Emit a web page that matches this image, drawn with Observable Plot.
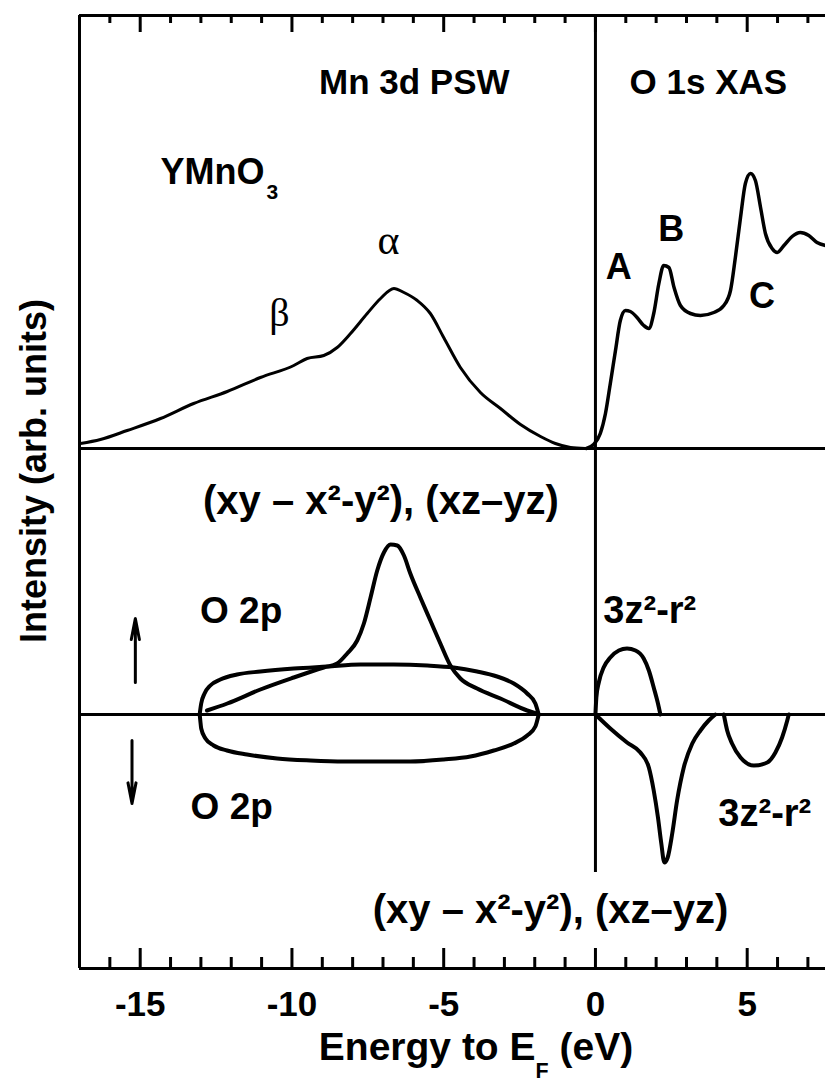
<!DOCTYPE html>
<html>
<head>
<meta charset="utf-8">
<script src="https://cdn.jsdelivr.net/npm/d3@7"></script>
<script src="https://cdn.jsdelivr.net/npm/@observablehq/plot@0.6"></script>
<style>
  html, body { margin: 0; padding: 0; background: #fff; }
  #wrap { position: relative; width: 825px; height: 1088px; overflow: hidden; }
  #xlabel {
    position: absolute; top: 1027px; left: 476px; transform: translateX(-50%);
    font: bold 39px "Liberation Sans", Arial, Helvetica, sans-serif;
    line-height: 39px; white-space: nowrap; color: #000;
  }
  #xlabel .sub { font-size: 0.55em; line-height: 1; position: relative; top: 0.85em; }
</style>
</head>
<body>
<div id="wrap">
  <div id="chart"></div>
  <div id="xlabel">Energy to E<span class="sub">F</span> (eV)</div>
</div>
<script>
// ---- Upper panel: Mn 3d partial spectral weight (occupied side) ----
const pswEnergy = [-16.97, -16.31, -15.43, -14.33, -13.24, -12.13, -11.04, -9.94, -9.50, -8.95,
  -8.51, -8.07, -7.52, -7.08, -6.64, -6.31, -5.87, -5.44, -5.00, -4.45,
  -3.79, -3.13, -2.47, -1.81, -1.32, -0.82, -0.33];
const pswIntensity = [0.5, 0.9, 1.8, 3.0, 4.5, 5.7, 7.1, 8.3, 9.0, 9.3,
  10.1, 11.5, 13.5, 15.0, 16.0, 15.6, 14.8, 13.5, 11.1, 8.1,
  5.6, 4.0, 2.4, 1.2, 0.5, 0.1, 0.0];

// ---- Upper panel: O 1s XAS (unoccupied side) ----
const xasEnergy = [-0.30, -0.06, 0.16, 0.33, 0.49, 0.66, 0.82, 0.99, 1.15, 1.37,
  1.59, 1.76, 1.92, 2.09, 2.25, 2.42, 2.59, 2.80, 3.13, 3.46,
  3.90, 4.23, 4.45, 4.61, 4.78, 4.94, 5.11, 5.27, 5.44, 5.60,
  5.82, 5.99, 6.21, 6.48, 6.75, 7.03, 7.30, 7.58];
const xasIntensity = [0.0, 0.4, 1.5, 3.5, 6.5, 9.8, 12.8, 13.8, 13.7, 13.1,
  12.3, 12.0, 13.5, 16.5, 18.3, 18.1, 16.1, 14.3, 13.5, 13.3,
  13.6, 14.3, 15.8, 19.1, 23.1, 26.5, 27.5, 26.8, 24.1, 21.5,
  20.0, 19.6, 20.3, 21.2, 21.6, 21.3, 20.6, 20.3];

// ---- Lower panel: O 2p, spin up (above zero) and spin down (below zero) ----
const o2pUpEnergy = [-13.04, -13.02, -12.99, -12.88, -12.69, -12.36, -11.81, -11.04, -9.94, -8.84,
  -7.74, -6.65, -5.54, -4.67, -3.90, -3.24, -2.69, -2.25, -1.98, -1.87];
const o2pUpIntensity = [0.0, 0.5, 1.1, 2.1, 2.9, 3.5, 4.0, 4.3, 4.6, 4.8,
  5.0, 5.0, 4.9, 4.7, 4.3, 3.8, 3.1, 2.1, 1.1, 0.0];
const o2pDownEnergy = [-13.04, -13.02, -12.99, -12.85, -12.58, -12.14, -11.48, -10.49, -9.39, -8.29,
  -7.19, -6.10, -5.00, -4.12, -3.35, -2.69, -2.25, -1.98, -1.87];
const o2pDownIntensity = [0.0, -0.6, -1.4, -2.4, -3.1, -3.6, -4.0, -4.4, -4.6, -4.7,
  -4.7, -4.7, -4.5, -4.2, -3.6, -2.9, -2.1, -1.2, 0.0];

// ---- Lower panel: Mn 3d (xy, x2-y2), (xz-yz), spin up, occupied ----
const mnUpEnergy = [-12.80, -12.13, -11.04, -9.94, -8.95, -8.51, -8.18, -7.85, -7.63, -7.41,
  -7.19, -6.97, -6.75, -6.53, -6.31, -6.10, -5.77, -5.44, -5.11, -4.78,
  -4.45, -3.90, -3.13, -2.25, -1.95];
const mnUpIntensity = [0.4, 1.1, 2.5, 3.7, 4.7, 5.1, 6.1, 7.4, 9.1, 11.7,
  14.4, 16.2, 17.0, 16.9, 15.9, 14.1, 11.7, 9.4, 7.1, 4.9,
  3.6, 2.6, 1.6, 0.4, 0.1];

// ---- Lower panel, unoccupied: 3z2-r2 spin up ----
const z2UpEnergy = [0.00, 0.03, 0.11, 0.27, 0.49, 0.77, 1.04, 1.32, 1.59, 1.76, 1.92, 2.06, 2.14];
const z2UpIntensity = [0.0, 1.7, 3.2, 4.7, 5.7, 6.4, 6.6, 6.4, 5.6, 4.4, 2.7, 1.1, 0.0];

// ---- Lower panel, unoccupied: (xy, x2-y2), (xz-yz) spin down ----
const t2DownEnergy = [0.00, 0.49, 1.04, 1.48, 1.76, 1.92, 2.06, 2.17, 2.27, 2.38,
  2.53, 2.69, 2.91, 3.19, 3.46, 3.73, 3.95];
const t2DownIntensity = [0.0, -1.4, -2.8, -3.8, -5.3, -7.6, -10.3, -12.9, -14.8, -14.3,
  -11.9, -8.6, -5.3, -2.9, -1.6, -0.6, 0.0];

// ---- Lower panel, unoccupied: 3z2-r2 spin down ----
const z2DownEnergy = [4.23, 4.34, 4.50, 4.78, 5.22, 5.66, 5.93, 6.15, 6.32, 6.37];
const z2DownIntensity = [0.0, -1.6, -2.9, -4.3, -5.1, -4.8, -3.8, -2.3, -0.6, 0.0];

// ---- Axis ticks ----
const minorTicks = d3.range(-17, 8);
const majorTicks = [-15, -10, -5, 0, 5];
const tickLabels = ["-15", "-10", "-5", "0", "5"];

// ---- Layout ----
const W = 825, H = 1088;
const MT = 15, MB = 120, ML = 79, MR = 0;
const frameH = H - MT - MB;
const xDomain = [-17, 7.58];
const yDomain = [-25.4, 69.9];
const upperBase = 26.6;       // baseline of the upper panel (lower panel zero is 0)
const zeroLineBottom = -15.8; // lower end of the vertical E = EF line

const rows = (E, I, offset = 0) => E.map((e, i) => ({e, v: I[i] + offset}));
const curve = (data, sw) => Plot.line(data, {
  x: "e", y: "v", curve: "monotone-x", stroke: "#000",
  strokeWidth: sw, strokeLinejoin: "round", strokeLinecap: "round"
});

const SANS = "'Liberation Sans', Arial, Helvetica, sans-serif";
const SERIF = "'Liberation Serif', 'Times New Roman', serif";
const label = (e, v, t, opts = {}) => Plot.text([{e, v, t}], {
  x: "e", y: "v", text: "t", lineAnchor: "bottom", fill: "#000",
  fontFamily: SANS, fontWeight: "bold", fontSize: 35, ...opts
});

const minor = minorTicks.filter(d => d % 5 !== 0);

const chart = Plot.plot({
  width: W, height: H,
  marginTop: MT, marginBottom: MB, marginLeft: ML, marginRight: MR,
  x: {domain: xDomain, axis: null},
  y: {domain: yDomain, axis: null},
  style: {fontFamily: SANS, color: "#000", background: "#fff", overflow: "visible"},
  marks: [
    // frame
    Plot.ruleY([yDomain[1]], {stroke: "#000", strokeWidth: 3}),
    Plot.ruleY([yDomain[0]], {stroke: "#000", strokeWidth: 3}),
    Plot.ruleX([xDomain[0]], {stroke: "#000", strokeWidth: 3}),
    // panel baselines and the Fermi level
    Plot.ruleY([upperBase], {stroke: "#000", strokeWidth: 3}),
    Plot.ruleY([0], {stroke: "#000", strokeWidth: 3}),
    Plot.ruleX([0], {y1: zeroLineBottom, y2: yDomain[1], stroke: "#000", strokeWidth: 3}),
    // inward ticks, top and bottom
    Plot.tickX(minor, {x: d => d, insetBottom: frameH - 8, stroke: "#000", strokeWidth: 3}),
    Plot.tickX(majorTicks, {x: d => d, insetBottom: frameH - 17, stroke: "#000", strokeWidth: 3}),
    Plot.tickX(minor, {x: d => d, insetTop: frameH - 11, stroke: "#000", strokeWidth: 3}),
    Plot.tickX(majorTicks, {x: d => d, insetTop: frameH - 20, stroke: "#000", strokeWidth: 3}),
    // tick labels
    Plot.text(majorTicks, {
      x: d => d, text: (d, i) => tickLabels[i], frameAnchor: "bottom", dy: 47,
      lineAnchor: "bottom", fontSize: 35, fontWeight: "bold", fontFamily: SANS, fill: "#000"
    }),
    // y axis title
    Plot.text(["Intensity (arb. units)"], {
      frameAnchor: "left", textAnchor: "middle", dx: -34, dy: -21, rotate: -90, lineAnchor: "bottom",
      fontSize: 36, fontWeight: "bold", fontFamily: SANS, fill: "#000"
    }),

    // spectra
    curve(rows(pswEnergy, pswIntensity, upperBase), 3),
    curve(rows(xasEnergy, xasIntensity, upperBase), 3.5),
    curve(rows(o2pUpEnergy, o2pUpIntensity), 4),
    curve(rows(o2pDownEnergy, o2pDownIntensity), 4),
    curve(rows(mnUpEnergy, mnUpIntensity), 4),
    curve(rows(z2UpEnergy, z2UpIntensity), 4),
    curve(rows(t2DownEnergy, t2DownIntensity), 4),
    curve(rows(z2DownEnergy, z2DownIntensity), 4),

    // spin arrows
    Plot.arrow([{x1: -15.16, y1: 3.2, x2: -15.16, y2: 9.6}, {x1: -15.27, y1: -2.6, x2: -15.27, y2: -8.9}], {
      x1: "x1", y1: "y1", x2: "x2", y2: "y2", stroke: "#000", strokeWidth: 3,
      headLength: 12, headAngle: 22
    }),

    // annotations
    label(-5.97, 62.1, "Mn 3d PSW", {textAnchor: "middle"}),
    label(3.72, 62.1, "O 1s XAS", {textAnchor: "middle"}),
    label(-14.33, 53.1, "YMnO", {textAnchor: "start", fontSize: 36}),
    label(-10.84, 51.6, "3", {textAnchor: "start", fontSize: 21}),
    label(-6.82, 46.1, "α", {textAnchor: "middle", fontFamily: SERIF, fontWeight: "normal", fontSize: 42}),
    label(-10.41, 38.9, "β", {textAnchor: "middle", fontFamily: SERIF, fontWeight: "normal", fontSize: 40}),
    label(0.77, 43.6, "A", {textAnchor: "middle", fontSize: 36}),
    label(2.50, 47.4, "B", {textAnchor: "middle", fontSize: 36}),
    label(5.49, 40.7, "C", {textAnchor: "middle", fontSize: 36}),
    label(-7.07, 20.1, "(xy – x²-y²), (xz–yz)", {textAnchor: "middle", fontSize: 40}),
    label(-1.48, -20.8, "(xy – x²-y²), (xz–yz)", {textAnchor: "middle", fontSize: 40}),
    label(-13.03, 9.2, "O 2p", {textAnchor: "start", fontSize: 37}),
    label(-13.34, -10.4, "O 2p", {textAnchor: "start", fontSize: 37}),
    label(0.26, 9.2, "3z²-r²", {textAnchor: "start", fontSize: 38}),
    label(4.05, -11.1, "3z²-r²", {textAnchor: "start", fontSize: 38})
  ]
});

document.getElementById("chart").appendChild(chart);
</script>
</body>
</html>
